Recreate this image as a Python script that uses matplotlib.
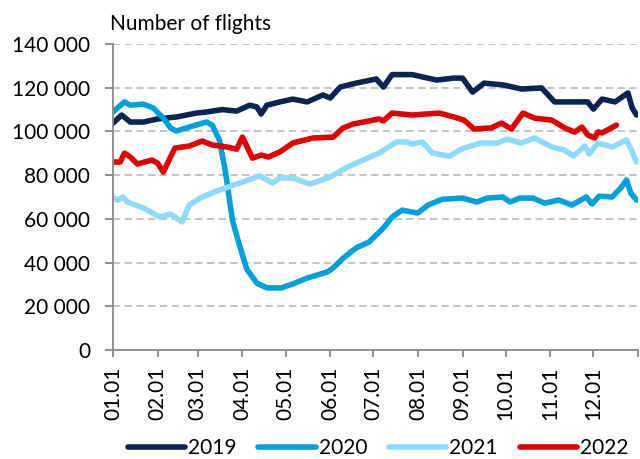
import numpy as np
import matplotlib.pyplot as plt
from matplotlib.ticker import FuncFormatter

plt.rcParams['font.family'] = ['Lato', 'DejaVu Sans']

# day of year -> thousands of flights (7-day average)
days_2019 = [0, 6, 12, 21, 31, 44, 58, 65, 76, 86, 95, 100, 103, 107, 116, 125, 135, 146,
             151, 158, 169, 183, 188, 194, 208, 225, 237, 243, 250, 258, 272, 284, 298, 307,
             330, 334, 340, 349, 358, 361, 364]
vals_2019 = [103.8, 107.5, 104.3, 104.3, 105.7, 106.6, 108.4, 108.9, 110, 109.3, 112, 111.2,
             108, 112, 113.5, 114.8, 113.5, 116.7, 115.3, 120.3, 122.1, 124, 120.3, 126, 126,
             123.5, 124.4, 124.4, 118, 122.1, 121.2, 119.4, 119.9, 113.5, 113.5, 110.2,
             114.8, 113.5, 117.6, 110.7, 107.5]

days_2020 = [0, 8, 12, 21, 28, 35, 40, 44, 53, 65, 69, 74, 78, 80, 83, 87, 93, 100, 107, 117,
             125, 135, 149, 153, 160, 169, 178, 188, 194, 201, 208, 212, 219, 229, 243, 253,
             260, 271, 276, 283, 292, 300, 310, 319, 329, 333, 338, 347, 353, 357, 360, 364]
vals_2020 = [108.9, 113.5, 112, 112.5, 110.7, 106.1, 101.6, 100.2, 102, 104.3, 102.9, 96,
             82.3, 73.2, 59.5, 50, 37, 30.6, 28.4, 28.4, 30.2, 32.9, 35.7, 37.5, 42, 46.7,
             49.4, 55.8, 60.8, 64, 63.1, 62.7, 66.3, 69, 69.5, 67.7, 69.5, 70, 67.7, 69.5,
             69.5, 67.2, 68.6, 66.3, 70, 66.8, 70.4, 70, 74.1, 77.8, 71.8, 68.6]

days_2021 = [0, 3.5, 7, 10, 21, 33, 40, 48, 53, 62, 74, 88, 102, 111, 116, 125, 137, 151,
             163, 174, 185, 197, 204, 208, 215, 222, 234, 241, 244, 256, 267, 274, 284, 293,
             305, 314, 320, 328, 331, 337, 347, 357, 361, 364]
vals_2021 = [69.5, 68.6, 70, 67.7, 65, 60.8, 62.2, 58.6, 66.3, 70, 73.2, 76.4, 79.6, 76.4,
             78.7, 78.7, 75.9, 79.1, 83.7, 86.9, 90.1, 95.2, 95.2, 94.2, 95.2, 90.1, 88.7,
             91.5, 92.4, 94.7, 94.7, 96.5, 94.7, 97, 92.9, 91.5, 88.7, 93.3, 89.7, 94.7,
             92.9, 96.1, 90.6, 86]

days_2022 = [0, 5, 8, 12, 17, 27, 31, 35, 40, 43, 53, 62, 69, 79, 86, 90, 97, 103, 108, 116,
             125, 139, 153, 160, 167, 185, 188, 194, 208, 227, 237, 244, 251, 263, 270, 277,
             285, 293, 305, 314, 321, 326, 330, 335, 337, 340, 350]
vals_2022 = [86, 86, 90.1, 88.3, 85.1, 86.9, 85.5, 81.4, 88.3, 92.4, 93.3, 95.6, 93.8, 92.9,
             91.9, 97.4, 87.8, 89.2, 88.3, 90.6, 94.7, 97, 97.4, 101.6, 103.4, 105.7, 104.8,
             108.4, 107.5, 108.4, 106.6, 105.2, 101.1, 101.6, 103.8, 101.1, 108.4, 106.1,
             105.2, 101.6, 99.7, 102, 98.4, 97, 99.7, 99.3, 102.9]

month_starts = [0, 31, 59, 90, 120, 151, 181, 212, 243, 273, 304, 334]
month_labels = ['01.01', '02.01', '03.01', '04.01', '05.01', '06.01',
                '07.01', '08.01', '09.01', '10.01', '11.01', '12.01']

series = [
    ('2019', days_2019, vals_2019, '#0C2452'),
    ('2020', days_2020, vals_2020, '#00A0DF'),
    ('2021', days_2021, vals_2021, '#8CDCFE'),
    ('2022', days_2022, vals_2022, '#E00000'),
]

fig = plt.figure(figsize=(6.4, 4.59), dpi=100)
ax = fig.add_axes([113 / 640, 1 - 350 / 459, 525 / 640, 306 / 459])

for label, d, v, c in series:
    ax.plot(d, np.array(v) * 1000, color=c, lw=4, label=label,
            solid_joinstyle='round', solid_capstyle='round')

ax.set_xlim(0, 365)
ax.set_ylim(0, 140000)
ax.set_yticks(np.arange(0, 140001, 20000))
ax.yaxis.set_major_formatter(FuncFormatter(lambda v, p: f'{int(v):,}'.replace(',', ' ')))
ax.set_xticks(month_starts + [365])
ax.set_xticklabels(month_labels + [''], rotation=90)

ax.grid(axis='y', color='#BFBFBF', ls=(0, (4, 2.5)), lw=1.3)
ax.set_axisbelow(True)
for s in ['top', 'right']:
    ax.spines[s].set_visible(False)
for s in ['left', 'bottom']:
    ax.spines[s].set_color('#898989')
    ax.spines[s].set_linewidth(1.3)
ax.tick_params(colors='#898989', width=1.3, labelcolor='black', labelsize=15)
ax.tick_params(axis='y', length=5.5, pad=11)
ax.tick_params(axis='x', length=5, pad=7)

fig.text(110 / 640, 1 - 24 / 459, 'Number of flights', fontsize=15, va='center', ha='left')

fig.legend(loc='lower center', bbox_to_anchor=(0.591, 0.0), ncol=4, frameon=False,
           fontsize=15, handlelength=2.74, handletextpad=0.15, columnspacing=1.06,
           borderpad=0.05, borderaxespad=0.0)

fig.savefig('out.png', dpi=100)
